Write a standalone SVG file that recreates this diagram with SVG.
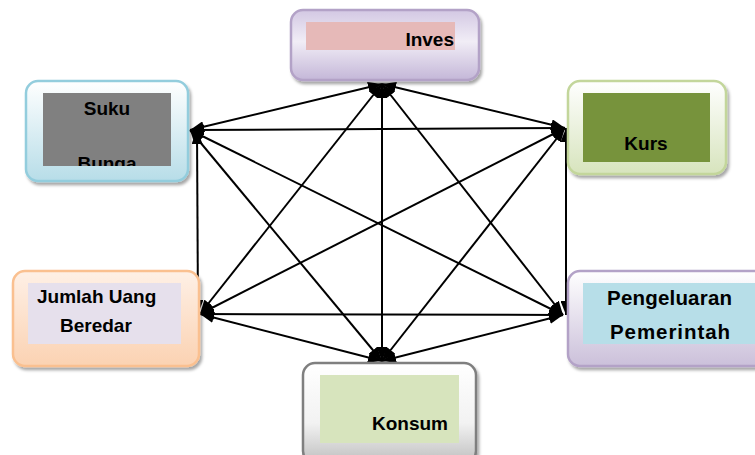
<svg xmlns="http://www.w3.org/2000/svg" width="755" height="455" viewBox="0 0 755 455">
  <style>
    .lbl { font-family: "Liberation Sans", Arial, sans-serif; font-weight: bold; font-size: 19px; fill: #000; }
    .lbl-wide { font-size: 20.5px; }
    .link { stroke: #000; stroke-width: 2; fill: none; marker-start: url(#arr); marker-end: url(#arr); }
    .box { stroke-width: 2.5; filter: url(#shadow); }
  </style>
  <defs>
    <filter id="shadow" x="-10%" y="-10%" width="130%" height="140%">
      <feDropShadow dx="2" dy="3" stdDeviation="1.5" flood-color="#000" flood-opacity="0.35"/>
    </filter>
    <marker id="arr" markerUnits="userSpaceOnUse" markerWidth="14" markerHeight="11" refX="14" refY="5.5" orient="auto-start-reverse">
      <path d="M0,0 L14,5.5 L0,11 z" fill="#000"/>
    </marker>
    <linearGradient id="gPurple" x1="0" y1="0" x2="0" y2="1">
      <stop offset="0" stop-color="#d3c8e3"/>
      <stop offset="0.45" stop-color="#f1edf6"/>
      <stop offset="1" stop-color="#c4b7d8"/>
    </linearGradient>
    <linearGradient id="gBlue" x1="0" y1="0" x2="0" y2="1">
      <stop offset="0" stop-color="#ffffff"/>
      <stop offset="1" stop-color="#b7dde8"/>
    </linearGradient>
    <linearGradient id="gGreen" x1="0" y1="0" x2="0" y2="1">
      <stop offset="0" stop-color="#ffffff"/>
      <stop offset="1" stop-color="#d7e4bd"/>
    </linearGradient>
    <linearGradient id="gOrange" x1="0" y1="0" x2="0" y2="1">
      <stop offset="0" stop-color="#fef0e6"/>
      <stop offset="1" stop-color="#fbd2b2"/>
    </linearGradient>
    <linearGradient id="gLilac" x1="0" y1="0" x2="0" y2="1">
      <stop offset="0" stop-color="#ffffff"/>
      <stop offset="1" stop-color="#cbc0da"/>
    </linearGradient>
    <linearGradient id="gGray" x1="0" y1="0" x2="0" y2="1">
      <stop offset="0" stop-color="#ffffff"/>
      <stop offset="0.6" stop-color="#f2f2f2"/>
      <stop offset="1" stop-color="#bfbfbf"/>
    </linearGradient>
    <clipPath id="clipSuku">
      <rect x="43" y="93" width="128" height="73"/>
    </clipPath>
  </defs>

  <!-- connectors: every node linked to every other, arrowheads at both ends -->
  <g id="connectors">
    <line class="link" x1="382" y1="84" x2="190" y2="130"/>
    <line class="link" x1="382" y1="84" x2="565" y2="128"/>
    <line class="link" x1="382" y1="84" x2="200" y2="314"/>
    <line class="link" x1="382" y1="84" x2="563" y2="315"/>
    <line class="link" x1="382" y1="84" x2="382" y2="361"/>
    <line class="link" x1="190" y1="130" x2="565" y2="128"/>
    <line class="link" x1="197" y1="130" x2="198" y2="314"/>
    <line class="link" x1="190" y1="130" x2="563" y2="315"/>
    <line class="link" x1="190" y1="130" x2="382" y2="361"/>
    <line class="link" x1="565" y1="128" x2="200" y2="314"/>
    <line class="link" x1="566" y1="128" x2="566" y2="315"/>
    <line class="link" x1="565" y1="128" x2="382" y2="361"/>
    <line class="link" x1="200" y1="314" x2="563" y2="315"/>
    <line class="link" x1="200" y1="314" x2="382" y2="361"/>
    <line class="link" x1="563" y1="315" x2="382" y2="361"/>
  </g>

  <g id="inves">
    <rect class="box" x="291" y="10" width="188" height="70" rx="12" fill="url(#gPurple)" stroke="#b3a2c7"/>
    <rect x="306" y="22" width="149" height="28" fill="#e6b9b8"/>
    <text class="lbl" x="454" y="46" text-anchor="end">Inves</text>
  </g>

  <g id="suku-bunga">
    <rect class="box" x="26" y="81" width="162" height="100" rx="12" fill="url(#gBlue)" stroke="#93cddd"/>
    <rect x="43" y="93" width="128" height="73" fill="#808080"/>
    <g clip-path="url(#clipSuku)">
      <text class="lbl" x="107" y="115" text-anchor="middle">Suku</text>
      <text class="lbl" x="107" y="170" text-anchor="middle">Bunga</text>
    </g>
  </g>

  <g id="kurs">
    <rect class="box" x="568" y="81" width="158" height="93" rx="12" fill="url(#gGreen)" stroke="#c3d69b"/>
    <rect x="583" y="93" width="127" height="69" fill="#77933c"/>
    <text class="lbl" x="646" y="150" text-anchor="middle">Kurs</text>
  </g>

  <g id="jumlah-uang-beredar">
    <rect class="box" x="13" y="271" width="186" height="95" rx="12" fill="url(#gOrange)" stroke="#fac090"/>
    <rect x="28" y="283" width="153" height="61" fill="#e6e0ec"/>
    <text class="lbl" x="37" y="303">Jumlah Uang</text>
    <text class="lbl" x="60" y="332">Beredar</text>
  </g>

  <g id="pengeluaran-pemerintah">
    <rect class="box" x="568" y="271" width="200" height="95" rx="12" fill="url(#gLilac)" stroke="#b3a2c7"/>
    <rect x="583" y="283" width="172" height="61" fill="#b7dee8"/>
    <text class="lbl lbl-wide" x="607" y="305" textLength="125">Pengeluaran</text>
    <text class="lbl lbl-wide" x="610" y="339" textLength="120">Pemerintah</text>
  </g>

  <g id="konsum">
    <rect class="box" x="303" y="363" width="173" height="100" rx="12" fill="url(#gGray)" stroke="#7f7f7f"/>
    <rect x="320" y="375" width="139" height="68" fill="#d7e4bd"/>
    <text class="lbl" x="448" y="430" text-anchor="end">Konsum</text>
  </g>
</svg>
